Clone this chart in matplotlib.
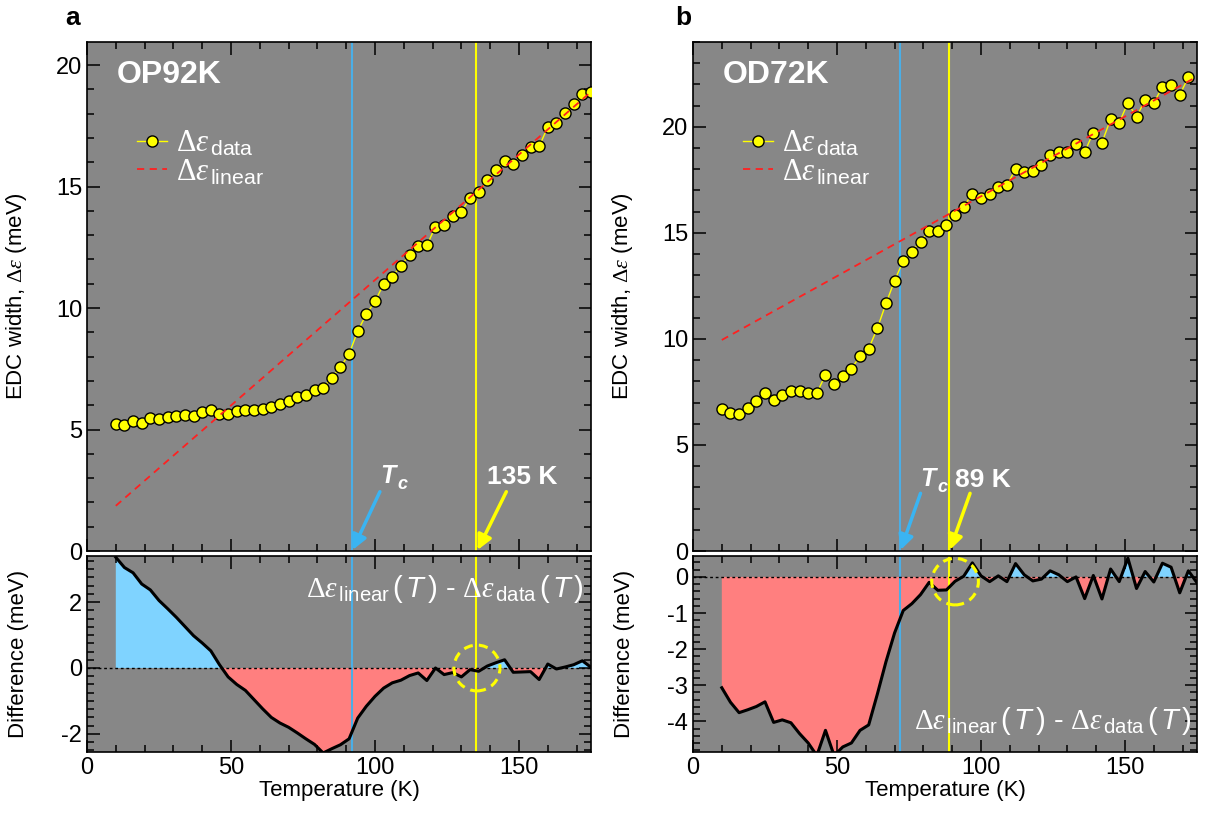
import numpy as np
import matplotlib
matplotlib.use('Agg')
import matplotlib.pyplot as plt
from matplotlib.patches import Ellipse
from matplotlib.lines import Line2D
from matplotlib.ticker import MultipleLocator

plt.rcParams['font.family'] = ['Liberation Sans', 'DejaVu Sans']
plt.rcParams['mathtext.fontset'] = 'custom'
plt.rcParams['mathtext.rm'] = 'Liberation Serif'
plt.rcParams['mathtext.it'] = 'Liberation Serif:italic'
plt.rcParams['mathtext.sf'] = 'Liberation Sans'
plt.rcParams['mathtext.tt'] = 'Liberation Sans:italic'
plt.rcParams['axes.unicode_minus'] = False

# ---- OP92K (panel a) ----
T_a = [10, 13, 16, 19, 22, 25, 28, 31, 34, 37, 40, 43, 46, 49, 52, 55, 58, 61, 64, 67,
       70, 73, 76, 79, 82, 85, 88, 91, 94, 97, 100, 103, 106, 109, 112, 115, 118, 121,
       124, 127, 130, 133, 136, 139, 142, 145, 148, 151, 154, 157, 160, 163, 166, 169,
       172, 175]
width_a = [5.24, 5.17, 5.36, 5.28, 5.46, 5.42, 5.50, 5.56, 5.58, 5.56, 5.71, 5.79, 5.65,
           5.62, 5.75, 5.82, 5.80, 5.86, 5.93, 6.04, 6.19, 6.33, 6.41, 6.63, 6.72, 7.13,
           7.56, 8.11, 9.05, 9.75, 10.27, 10.99, 11.29, 11.74, 12.18, 12.54, 12.58, 13.35,
           13.42, 13.79, 13.96, 14.53, 14.76, 15.25, 15.68, 16.04, 15.93, 16.31, 16.63,
           16.65, 17.46, 17.63, 18.01, 18.40, 18.81, 18.90]
lin_T_a = [10, 175]
lin_a = [1.86, 18.90]
diff_a = [3.36, 3.05, 2.89, 2.55, 2.37, 2.05, 1.80, 1.54, 1.26, 0.98, 0.76, 0.52, 0.10,
          -0.27, -0.50, -0.68, -0.96, -1.24, -1.50, -1.67, -1.80, -1.97, -2.15, -2.32,
          -2.58, -2.45, -2.33, -2.15, -1.52, -1.16, -0.86, -0.61, -0.45, -0.37, -0.23,
          -0.15, -0.38, 0.00, -0.20, -0.14, -0.27, -0.05, -0.10, 0.06, 0.16, 0.25, -0.13,
          -0.12, -0.11, -0.35, 0.12, -0.03, 0.03, 0.10, 0.22, 0.02]
Tc_a, Tstar_a = 92, 135

# ---- OD72K (panel b) ----
T_b = T_a[:-1]
width_b = [6.68, 6.49, 6.46, 6.73, 7.09, 7.44, 7.11, 7.36, 7.56, 7.55, 7.47, 7.45, 8.30,
           7.86, 8.25, 8.60, 9.18, 9.54, 10.50, 11.67, 12.75, 13.68, 14.12, 14.59, 15.09,
           15.09, 15.38, 15.85, 16.24, 16.84, 16.64, 16.81, 17.18, 17.25, 18.00, 17.86,
           17.92, 18.21, 18.68, 18.81, 18.79, 19.21, 18.82, 19.73, 19.26, 20.36, 20.20,
           21.13, 20.47, 21.27, 21.13, 21.89, 21.98, 21.51, 22.34]
lin_T_b = [10, 175]
lin_b = [9.95, 22.37]
diff_T_b = T_a
diff_b = [-3.07, -3.47, -3.76, -3.68, -3.59, -3.46, -4.03, -3.96, -4.04, -4.34, -4.60,
          -4.95, -4.25, -4.95, -4.71, -4.60, -4.25, -4.10, -3.25, -2.35, -1.55, -0.93,
          -0.74, -0.49, -0.15, -0.37, -0.36, -0.12, 0.02, 0.39, 0.03, -0.13, 0.03, -0.13,
          0.37, 0.06, -0.11, -0.06, 0.17, 0.06, -0.13, 0.00, -0.60, 0.04, -0.61, 0.22,
          -0.13, 0.52, -0.32, 0.15, -0.14, 0.38, 0.27, -0.44, 0.17, -0.16]
Tc_b, Tstar_b = 72, 89

GRAY = '#878787'
BLUE_LINE = '#4aaee6'
BLUE_FILL = '#7fd3ff'
RED_FILL = '#ff7f7f'
YEL = '#ffff00'
RED = '#ff2020'

DE = r'\Delta\varepsilon'
DIFF_TXT = (r'$' + DE + r'_{\,\mathsf{linear}}\,\mathsf{(}\,\mathtt{T}\,\mathsf{)}$ - '
            r'$' + DE + r'_{\,\mathsf{data}}\,\mathsf{(}\,\mathtt{T}\,\mathsf{)}$')

W, H = 1213, 817
fig = plt.figure(figsize=(W / 100, H / 100), dpi=100)


def frame(ax, ymaj, ymin):
    ax.set_facecolor(GRAY)
    ax.set_xlim(0, 175)
    ax.xaxis.set_major_locator(MultipleLocator(50))
    ax.xaxis.set_minor_locator(MultipleLocator(10))
    ax.yaxis.set_major_locator(MultipleLocator(ymaj))
    ax.yaxis.set_minor_locator(MultipleLocator(ymin))
    ax.tick_params(which='both', direction='in', top=True, right=True, width=1.1,
                   labelsize=17, colors='black')
    ax.tick_params(which='major', length=9)
    ax.tick_params(which='minor', length=5)
    for s in ax.spines.values():
        s.set_linewidth(1.2)


def top_panel(left, T, w, lT, lv, Tc, Tst, ymax, name, txt_tc, txt_st):
    ax = fig.add_axes([left / W, 1 - 551 / H, 504 / W, 509 / H])
    frame(ax, 5, 1)
    ax.set_ylim(0, ymax)
    ax.tick_params(labelbottom=False)
    ax.axvline(Tc, color=BLUE_LINE, lw=1.5, zorder=1.5)
    ax.axvline(Tst, color=YEL, lw=1.5, zorder=1.5)
    ax.plot(T, w, '-o', color=YEL, lw=1, ms=8, mfc=YEL, mec='black', mew=1, zorder=3)
    ax.plot(lT, lv, '--', color=RED, lw=1.3, dashes=(4, 3), zorder=4)
    ax.set_ylabel(r'EDC width, $' + DE + r'$ (meV)', fontsize=16)
    ax.yaxis.set_label_coords(-0.115, 0.5)
    ax.text(0.06, 0.935, name, transform=ax.transAxes, color='white', fontsize=23,
            fontweight='bold', va='center', ha='left')
    handles = [Line2D([], [], color=YEL, lw=1, marker='o', ms=8, mfc=YEL, mec='black', mew=1),
               Line2D([], [], color=RED, lw=1.3, ls='--', dashes=(4, 3))]
    ax.legend(handles, [r'$' + DE + r'_{\,\mathsf{data}}$', r'$' + DE + r'_{\,\mathsf{linear}}$'],
              loc='upper left', bbox_to_anchor=(0.068, 0.86), frameon=False, labelcolor='white',
              fontsize=22, handlelength=1.0, handletextpad=0.3, labelspacing=-0.05, borderpad=0)
    # arrows marking Tc and the crossover temperature
    (tx, ty), (hx, hy), (lx, ly) = txt_tc
    ax.annotate('', xy=(hx, hy), xytext=(tx, ty),
                arrowprops=dict(arrowstyle='-|>', color='#3ab4f2', lw=2.5, mutation_scale=22,
                                shrinkA=0, shrinkB=0))
    ax.text(lx, ly, 'T', color='white', fontsize=18, fontweight='bold', fontstyle='italic',
            ha='center', va='center')
    ax.annotate('c', xy=(lx, ly), xytext=(7, -6), textcoords='offset points', color='white',
                fontsize=13, fontweight='bold', fontstyle='italic', ha='left', va='center')
    (tx, ty), (hx, hy), (lx, ly), s = txt_st
    ax.annotate('', xy=(hx, hy), xytext=(tx, ty),
                arrowprops=dict(arrowstyle='-|>', color=YEL, lw=2.5, mutation_scale=22,
                                shrinkA=0, shrinkB=0))
    ax.text(lx, ly, s, color='white', fontsize=19, fontweight='bold', ha='center', va='center')
    return ax


def bottom_panel(left, T, d, Tc, Tst, ylim, ymaj, ymin, circ, txt_pos):
    ax = fig.add_axes([left / W, 1 - 752 / H, 504 / W, 196 / H])
    frame(ax, ymaj, ymin)
    ax.set_ylim(*ylim)
    d = np.array(d)
    ax.fill_between(T, d, 0, where=d >= 0, interpolate=True, color=BLUE_FILL, lw=0, zorder=1)
    ax.fill_between(T, d, 0, where=d <= 0, interpolate=True, color=RED_FILL, lw=0, zorder=1)
    ax.axvline(Tc, color=BLUE_LINE, lw=1.5, zorder=2)
    ax.axvline(Tst, color=YEL, lw=1.5, zorder=2)
    ax.axhline(0, color='black', lw=1, ls=(0, (2, 2)), zorder=2.5)
    ax.plot(T, d, color='black', lw=2.2, zorder=3)
    cx, cy, cw, ch = circ
    ax.add_patch(Ellipse((cx, cy), cw, ch, fill=False, ec=YEL, lw=2.2, ls=(0, (3, 2)), zorder=4))
    ax.set_xlabel('Temperature (K)', fontsize=16, labelpad=1)
    ax.set_ylabel('Difference (meV)', fontsize=16)
    ax.yaxis.set_label_coords(-0.115, 0.5)
    x, y, va = txt_pos
    ax.text(x, y, DIFF_TXT, transform=ax.transAxes, color='white', fontsize=21,
            ha='right', va=va)
    return ax


top_panel(87, T_a, width_a, lin_T_a, lin_a, Tc_a, Tstar_a, 20.95, 'OP92K',
          ((101.7, 2.44), (92.2, 0.04), (104.5, 3.1)),
          ((145.6, 2.44), (135.6, 0.04), (151.0, 3.05), '135 K'))
bottom_panel(87, T_a, diff_a, Tc_a, Tstar_a, (-2.55, 3.4), 2, 0.25,
             (135.4, 0.0, 16.0, 1.39), (0.985, 0.83, 'center'))

top_panel(693, T_b, width_b, lin_T_b, lin_b, Tc_b, Tstar_b, 24.0, 'OD72K',
          ((79.0, 2.72), (72.1, 0.05), (81.5, 3.4)),
          ((96.2, 2.72), (89.2, 0.05), (100.8, 3.35), '89 K'))
bottom_panel(693, diff_T_b, diff_b, Tc_b, Tstar_b, (-4.85, 0.58), 1, 0.2,
             (91.0, -0.13, 16.2, 1.29), (0.99, 0.16, 'center'))

fig.text(73 / W, 1 - 18 / H, 'a', fontsize=19, fontweight='bold', ha='center', va='center')
fig.text(683 / W, 1 - 18 / H, 'b', fontsize=19, fontweight='bold', ha='center', va='center')

fig.savefig('out.png', dpi=100, facecolor='white')
